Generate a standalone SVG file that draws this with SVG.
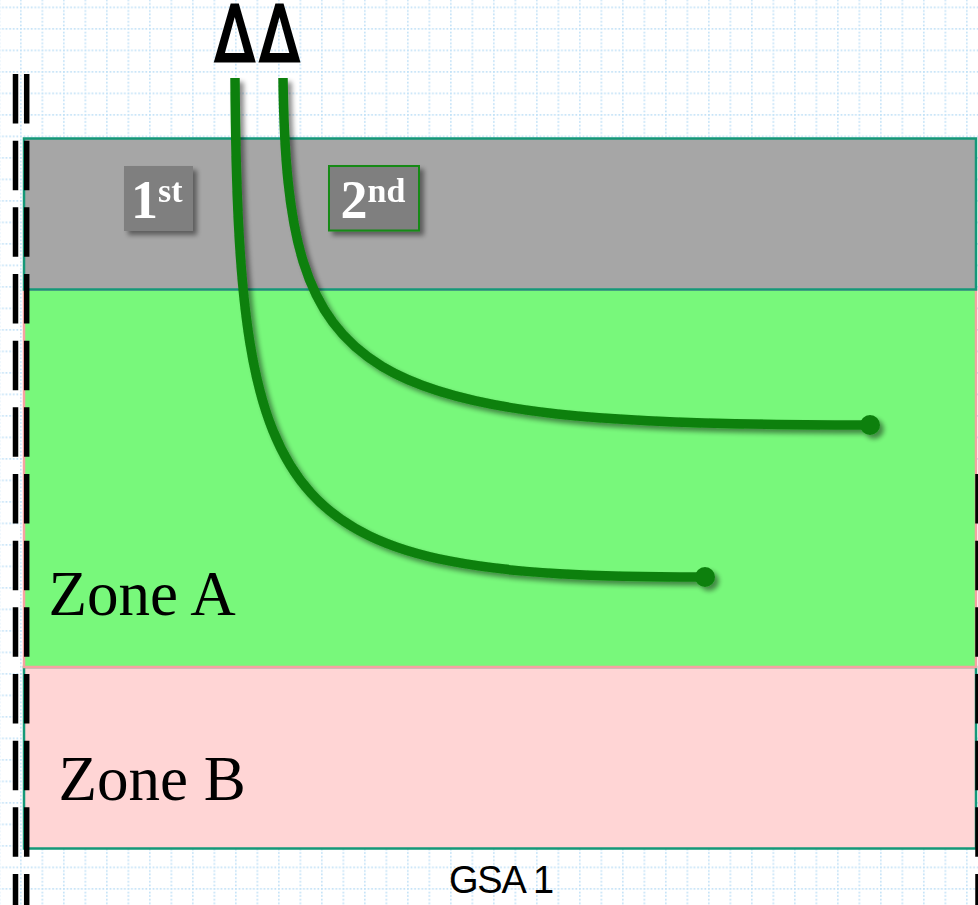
<svg xmlns="http://www.w3.org/2000/svg" width="978" height="905" viewBox="0 0 978 905">
<defs>
<pattern id="grid" patternUnits="userSpaceOnUse" x="20" y="6.5" width="21.5" height="21.5">
<line x1="0.8" y1="0" x2="0.8" y2="21.5" stroke="#c3e2f7" stroke-width="1.7" stroke-dasharray="1.7 1.9"/>
<line x1="0" y1="0.8" x2="21.5" y2="0.8" stroke="#c3e2f7" stroke-width="1.7" stroke-dasharray="1.7 1.9"/>
</pattern>
<filter id="sh" x="-20%" y="-20%" width="140%" height="140%">
<feGaussianBlur in="SourceAlpha" stdDeviation="2.5"/>
<feOffset dx="4" dy="4" result="b"/>
<feComponentTransfer><feFuncA type="linear" slope="0.45"/></feComponentTransfer>
<feMerge><feMergeNode/><feMergeNode in="SourceGraphic"/></feMerge>
</filter>
<style>
.zone{font-family:"Liberation Serif","Times New Roman",serif;font-size:63px;fill:#000}
.lbl{font-family:"Liberation Serif","Times New Roman",serif;font-weight:bold;font-size:54px;fill:#fff}
.dash{stroke:#000;stroke-width:5.5;stroke-dasharray:49.5 17.17;fill:none}
.curve{fill:none;stroke:#0b800b;stroke-width:9.5}
</style>
</defs>
<rect width="978" height="905" fill="#fff"/>
<rect width="978" height="905" fill="url(#grid)"/>

<g id="zoneB">
<rect x="24" y="667" width="952" height="181.5" fill="#ffd5d5" stroke="#149878" stroke-width="2.5"/>
<text class="zone" x="58.5" y="800">Zone B</text>
</g>
<g id="zoneA">
<rect x="24" y="289.5" width="952" height="377.5" fill="#78f87b" stroke="#f5a2a2" stroke-width="2.5"/>
<text class="zone" x="48.5" y="615">Zone A</text>
</g>
<g id="top">
<rect x="24" y="138.5" width="952" height="151" fill="#a6a6a6" stroke="#149878" stroke-width="2.5"/>
</g>

<g id="boundaries">
<line class="dash" x1="15.5" y1="74" x2="15.5" y2="905"/>
<line class="dash" x1="26.7" y1="74" x2="26.7" y2="905"/>
<line class="dash" x1="978" y1="474" x2="978" y2="905"/>
</g>

<g id="connectors" filter="url(#sh)">
<path class="curve" d="M235,78 C238,520 280,577 700,577"/>
<circle cx="705" cy="577" r="10" fill="#0b800b"/>
<path class="curve" d="M283,78 C287,385 350,425 865,425"/>
<circle cx="870" cy="425" r="10" fill="#0b800b"/>
</g>

<g id="label1" filter="url(#sh)">
<rect x="124" y="166" width="69" height="65" fill="#7f7f7f"/>
<text class="lbl" x="131" y="218">1<tspan font-size="34" dy="-16.5">st</tspan></text>
</g>
<g id="label2" filter="url(#sh)">
<rect x="329" y="166" width="90" height="64.5" fill="#7f7f7f" stroke="#138a13" stroke-width="2"/>
<text class="lbl" x="340.5" y="218">2<tspan font-size="34" dy="-16.5">nd</tspan></text>
</g>

<g id="deltas">
<text transform="translate(215,61) scale(0.76,1)" font-family="DejaVu Sans, sans-serif" font-size="76" letter-spacing="7" fill="#000" stroke="#000" stroke-width="3.2" stroke-linejoin="miter">ΔΔ</text>
</g>

<g id="gsa">
<text x="449" y="893" font-family="Liberation Sans, Arial, sans-serif" font-size="38" letter-spacing="-1.2" fill="#000">GSA 1</text>
</g>
</svg>
